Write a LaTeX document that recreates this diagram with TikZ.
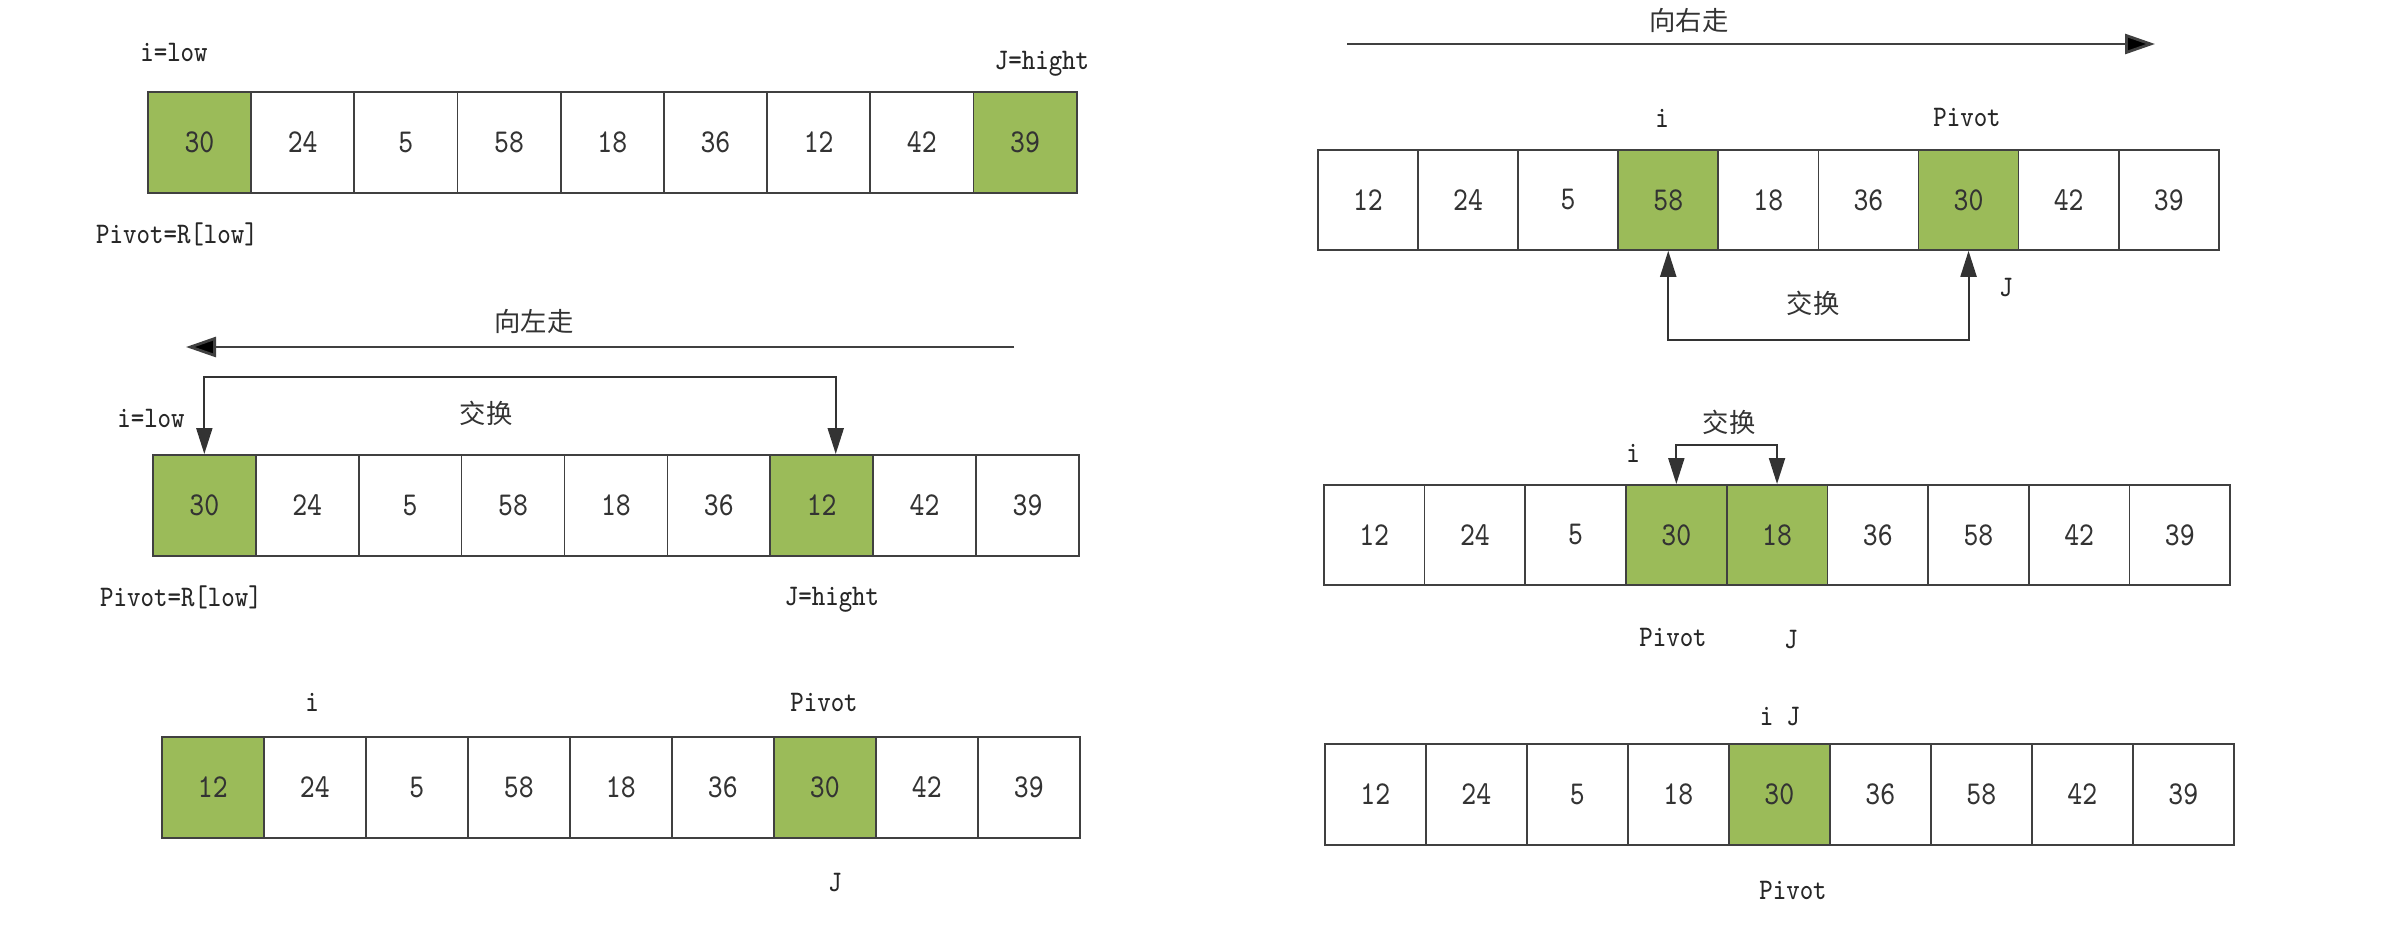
\documentclass[tikz,border=0pt]{standalone}
\usepackage{fontspec}
\setmainfont[FakeStretch=0.85]{Latin Modern Mono}
\newfontfamily\cjk{Noto Sans CJK SC}
\usetikzlibrary{arrows.meta}
\definecolor{pivotgreen}{HTML}{9BBB59}
\tikzset{
    cell/.style={draw=black!75, line width=0.5pt, minimum height=1.01cm, inner sep=0pt,
        anchor=north west, font=\fontsize{9.5}{10}\selectfont, text=black!80},
    hot/.style={fill=pivotgreen},
    plain/.style={},
    lbl/.style={font=\fontsize{8.5}{9}\selectfont, text=black!85, inner sep=1pt},
    cn/.style={font=\cjk\fontsize{7.5}{9}\selectfont, text=black!80, inner sep=1pt},
    walk/.style={line width=0.8pt, draw=black!75, -{Triangle[length=3mm,width=2mm,fill=black]}},
    swap/.style={line width=0.6pt, draw=black!80,
        {Triangle[length=2.6mm,width=1.6mm]}-{Triangle[length=2.6mm,width=1.6mm]}},
}
\begin{document}
\begin{tikzpicture}
        \useasboundingbox (0,0) rectangle (24.07,-9.40);

        % left column
        \begin{scope}[shift={(1.47,-0.91)}]
            \def\cw{1.032}
            \foreach \v/\s [count=\k from 0] in {30/hot,24/plain,5/plain,58/plain,18/plain,36/plain,12/plain,42/plain,39/hot}
                \node [cell,\s,minimum width=\cw cm] (r1c\k) at (\k*\cw,0) {\v};
        \end{scope}
        \node [lbl] (r1i) at (1.74,-0.52) {i=low};
        \node [lbl] (r1j) at (10.42,-0.64) {J=hight};
        \node [lbl] (r1p) at (1.77,-2.34) {Pivot=R[low]};

        \begin{scope}[shift={(1.52,-4.54)}]
            \def\cw{1.029}
            \foreach \v/\s [count=\k from 0] in {30/hot,24/plain,5/plain,58/plain,18/plain,36/plain,12/hot,42/plain,39/plain}
                \node [cell,\s,minimum width=\cw cm] (r2c\k) at (\k*\cw,0) {\v};
        \end{scope}
        \node [cn] (r2walk) at (5.34,-3.21) {向左走};
        \coordinate (r2from) at (10.14,-3.47);
        \coordinate (r2to) at (1.86,-3.47);
        \draw [walk] (r2from) -- (r2to);
        \draw [swap] (r2c0.north) -- ++(0,0.77) -| ([xshift=0.14cm]r2c6.north);
        \node [cn] (r2swap) at (4.86,-4.13) {交换};
        \node [lbl] (r2i) at (1.51,-4.18) {i=low};
        \node [lbl] (r2p) at (1.81,-5.97) {Pivot=R[low]};
        \node [lbl] (r2j) at (8.32,-6.00) {J=hight};

        \begin{scope}[shift={(1.61,-7.36)}]
            \def\cw{1.02}
            \foreach \v/\s [count=\k from 0] in {12/hot,24/plain,5/plain,58/plain,18/plain,36/plain,30/hot,42/plain,39/plain}
                \node [cell,\s,minimum width=\cw cm] (r3c\k) at (\k*\cw,0) {\v};
        \end{scope}
        \node [lbl] (r3i) at (3.12,-7.02) {i};
        \node [lbl] (r3p) at (8.24,-7.02) {Pivot};
        \node [lbl] (r3j) at (8.35,-8.82) {J};

        % right column
        \begin{scope}[shift={(13.17,-1.49)}]
            \def\cw{1.001}
            \foreach \v/\s [count=\k from 0] in {12/plain,24/plain,5/plain,58/hot,18/plain,36/plain,30/hot,42/plain,39/plain}
                \node [cell,\s,minimum width=\cw cm,minimum height=1.0cm] (r4c\k) at (\k*\cw,0) {\v};
        \end{scope}
        \node [cn] (r4walk) at (16.89,-0.20) {向右走};
        \coordinate (r4from) at (13.47,-0.44);
        \coordinate (r4to) at (21.55,-0.44);
        \draw [walk] (r4from) -- (r4to);
        \node [lbl] (r4i) at (16.62,-1.18) {i};
        \node [lbl] (r4p) at (19.67,-1.17) {Pivot};
        \draw [swap] (r4c3.south) -- ++(0,-0.89) -| (r4c6.south);
        \node [cn] (r4swap) at (18.13,-3.03) {交换};
        \node [lbl] (r4j) at (20.06,-2.88) {J};

        \begin{scope}[shift={(13.23,-4.84)}]
            \def\cw{1.007}
            \foreach \v/\s [count=\k from 0] in {12/plain,24/plain,5/plain,30/hot,18/hot,36/plain,58/plain,42/plain,39/plain}
                \node [cell,\s,minimum width=\cw cm,minimum height=1.0cm] (r5c\k) at (\k*\cw,0) {\v};
        \end{scope}
        \draw [swap] (r5c3.north) -- ++(0,0.39) -| (r5c4.north);
        \node [cn] (r5swap) at (17.29,-4.22) {交换};
        \node [lbl] (r5i) at (16.33,-4.53) {i};
        \node [lbl] (r5p) at (16.73,-6.37) {Pivot};
        \node [lbl] (r5j) at (17.91,-6.40) {J};

        \begin{scope}[shift={(13.24,-7.43)}]
            \def\cw{1.01}
            \foreach \v/\s [count=\k from 0] in {12/plain,24/plain,5/plain,18/plain,30/hot,36/plain,58/plain,42/plain,39/plain}
                \node [cell,\s,minimum width=\cw cm] (r6c\k) at (\k*\cw,0) {\v};
        \end{scope}
        \node [lbl] (r6ij) at (17.80,-7.17) {i J};
        \node [lbl] (r6p) at (17.93,-8.90) {Pivot};
    \end{tikzpicture}
\end{document}
